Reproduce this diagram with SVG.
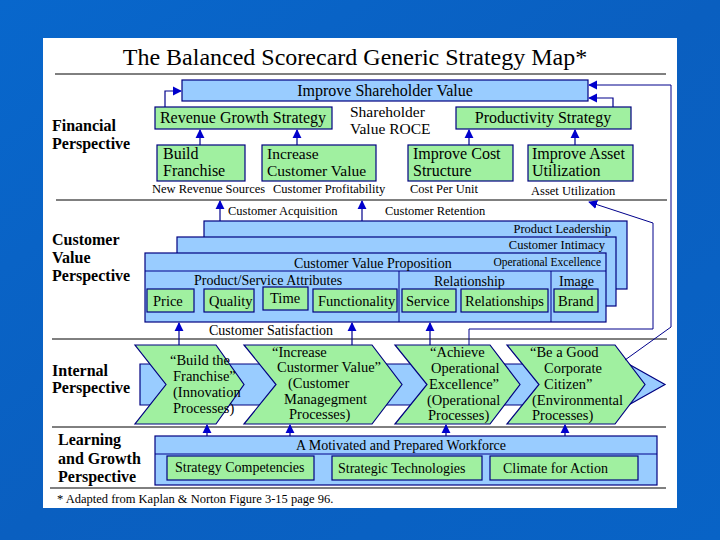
<svg xmlns="http://www.w3.org/2000/svg" width="720" height="540" viewBox="0 0 720 540" font-family="'Liberation Serif', 'Times New Roman', Times, 'DejaVu Serif', serif">
<defs>
<linearGradient id="bg" x1="0" y1="0" x2="1" y2="1">
<stop offset="0" stop-color="#0867CC"/>
<stop offset="0.5" stop-color="#0A5FC0"/>
<stop offset="1" stop-color="#0863C6"/>
</linearGradient>
<style>
text{font-family:'Liberation Serif','Times New Roman',Times,'DejaVu Serif',serif;fill:#000}
.b{font-weight:bold;font-size:16px}
.g{fill:#A0F0A0;stroke:#000080;stroke-width:1.2}
.bl{fill:#99CCFF;stroke:#000080;stroke-width:1.2}
.sep{stroke:#000;stroke-width:1;fill:none}
.c{stroke:#00008B;stroke-width:1.2;fill:none}
.cl{stroke:#00008B;stroke-width:1;fill:none}
.s16{font-size:16px}
.s15{font-size:15.5px}
.s14{font-size:14.5px}
.s12{font-size:12.5px}
</style>
<marker id="ah" viewBox="0 0 10 10" refX="9" refY="5" markerWidth="9" markerHeight="10" markerUnits="userSpaceOnUse" orient="auto">
<path d="M0,0 L10,5 L0,10 z" fill="#0000CC"/>
</marker>
</defs>

<rect x="0" y="0" width="720" height="540" fill="url(#bg)"/>
<rect x="43" y="38" width="634" height="470" fill="#FFFFFF"/>

<text x="355" y="65" font-size="24" text-anchor="middle">The Balanced Scorecard Generic Strategy Map*</text>

<g id="separators">
<line class="sep" x1="55" y1="74" x2="666" y2="74"/>
<line class="sep" x1="56" y1="200" x2="667" y2="200"/>
<line class="sep" x1="52" y1="339" x2="667" y2="339"/>
<line class="sep" x1="52" y1="427" x2="666" y2="427"/>
<line class="sep" x1="50" y1="488" x2="666" y2="488"/>
</g>

<g id="perspective-labels">
<text class="b" x="52" y="131">Financial</text>
<text class="b" x="52" y="149">Perspective</text>
<text class="b" x="52" y="245">Customer</text>
<text class="b" x="52" y="263">Value</text>
<text class="b" x="52" y="281">Perspective</text>
<text class="b" x="52" y="376">Internal</text>
<text class="b" x="52" y="393">Perspective</text>
<text class="b" x="58" y="445">Learning</text>
<text class="b" x="58" y="464">and Growth</text>
<text class="b" x="58" y="482">Perspective</text>
</g>

<g id="improve-shareholder-value">
<rect class="bl" x="182" y="80" width="406" height="21"/>
<text class="s16" x="385" y="96" text-anchor="middle">Improve Shareholder Value</text>
</g>
<g id="revenue-growth-strategy">
<rect class="g" x="155" y="107" width="177" height="22"/>
<text class="s16" x="243" y="123" text-anchor="middle">Revenue Growth Strategy</text>
</g>
<g id="shareholder-value-roce">
<text class="s15" x="350" y="117">Shareholder</text>
<text class="s15" x="350" y="134">Value ROCE</text>
</g>
<g id="productivity-strategy">
<rect class="g" x="456" y="107" width="175" height="22"/>
<text class="s16" x="543" y="123" text-anchor="middle">Productivity Strategy</text>
</g>
<g id="build-franchise">
<rect class="g" x="157" y="145" width="88" height="36"/>
<text class="s16" x="163" y="159">Build</text>
<text class="s16" x="163" y="176">Franchise</text>
</g>
<g id="increase-customer-value">
<rect class="g" x="262" y="145" width="114" height="36"/>
<text class="s15" x="267" y="159">Increase</text>
<text class="s15" x="267" y="176">Customer Value</text>
</g>
<g id="improve-cost-structure">
<rect class="g" x="408" y="145" width="105" height="36"/>
<text class="s16" x="413" y="159">Improve Cost</text>
<text class="s16" x="413" y="176">Structure</text>
</g>
<g id="improve-asset-utilization">
<rect class="g" x="528" y="145" width="105" height="36"/>
<text class="s16" x="532" y="159">Improve Asset</text>
<text class="s16" x="532" y="176">Utilization</text>
</g>
<g id="financial-measures">
<text class="s12" x="152" y="193">New Revenue Sources</text>
<text class="s12" x="273" y="193">Customer Profitability</text>
<text class="s12" x="410" y="193">Cost Per Unit</text>
<text class="s12" x="531" y="195">Asset Utilization</text>
</g>

<g id="product-leadership">
<rect class="bl" x="204" y="221" width="423" height="68"/>
<text class="s12" x="611" y="233" text-anchor="end">Product Leadership</text>
</g>
<g id="customer-intimacy">
<rect class="bl" x="177" y="237" width="439" height="69"/>
<text class="s12" x="605" y="249" text-anchor="end">Customer Intimacy</text>
</g>
<g id="customer-value-proposition">
<rect class="bl" x="145" y="253" width="461" height="69"/>
<line class="cl" x1="145" y1="271" x2="606" y2="271"/>
<line class="cl" x1="399" y1="271" x2="399" y2="322"/>
<line class="cl" x1="551" y1="271" x2="551" y2="322"/>
<text font-size="14" x="294" y="268">Customer Value Proposition</text>
<text font-size="11.5" x="601" y="266" text-anchor="end">Operational Excellence</text>
<text font-size="14" x="194" y="285">Product/Service Attributes</text>
<text font-size="14" x="434" y="286">Relationship</text>
<text font-size="14" x="559" y="286">Image</text>
</g>
<g id="price"><rect class="g" x="147" y="289" width="47" height="23"/><text class="s14" x="153" y="306">Price</text></g>
<g id="quality"><rect class="g" x="204" y="289" width="50" height="23"/><text class="s14" x="209" y="306">Quality</text></g>
<g id="time"><rect class="g" x="263" y="287" width="45" height="23"/><text class="s14" x="270" y="303">Time</text></g>
<g id="functionality"><rect class="g" x="313" y="289" width="84" height="23"/><text class="s14" x="318" y="306">Functionality</text></g>
<g id="service"><rect class="g" x="402" y="289" width="54" height="23"/><text class="s14" x="406" y="306">Service</text></g>
<g id="relationships"><rect class="g" x="461" y="289" width="87" height="23"/><text class="s14" x="465" y="306">Relationships</text></g>
<g id="brand"><rect class="g" x="554" y="289" width="44" height="23"/><text class="s14" x="558" y="306">Brand</text></g>

<g id="internal-arrow">
<polygon class="bl" points="140,364 600,364 600,348 665,384.5 600,421 600,405 140,405"/>
</g>
<g id="build-the-franchise">
<polygon class="g" points="135,345 216,345 244,384.5 216,424 135,424 166,384.5"/>
<text class="s14" x="170" y="365">“Build the</text>
<text class="s14" x="173" y="381">Franchise”</text>
<text class="s14" x="173" y="397">(Innovation</text>
<text class="s14" x="173" y="413">Processes)</text>
</g>
<g id="increase-customer-value-process">
<polygon class="g" points="244,345 372,345 402,384.5 372,424 244,424 276,384.5"/>
<text class="s14" x="272" y="357">“Increase</text>
<text class="s14" x="277" y="372">Custormer Value”</text>
<text class="s14" x="288" y="388">(Customer</text>
<text class="s14" x="284" y="404">Managegment</text>
<text class="s14" x="289" y="419">Processes)</text>
</g>
<g id="achieve-operational-excellence">
<polygon class="g" points="395,345 490,345 520,384.5 490,424 395,424 427,384.5"/>
<text class="s14" x="430" y="357">“Achieve</text>
<text class="s14" x="431" y="373">Operational</text>
<text class="s14" x="429" y="389">Excellence”</text>
<text class="s14" x="427" y="405">(Operational</text>
<text class="s14" x="428" y="420">Processes)</text>
</g>
<g id="good-corporate-citizen">
<polygon class="g" points="507,345 615,345 645,384.5 615,424 507,424 539,384.5"/>
<text class="s14" x="530" y="357">“Be a Good</text>
<text class="s14" x="544" y="373">Corporate</text>
<text class="s14" x="544" y="389">Citizen”</text>
<text class="s14" x="532" y="405">(Environmental</text>
<text class="s14" x="532" y="420">Processes)</text>
</g>

<g id="motivated-workforce">
<rect class="bl" x="155" y="436" width="502" height="49"/>
<line class="cl" x1="155" y1="454" x2="657" y2="454"/>
<text font-size="14" x="401" y="450" text-anchor="middle">A Motivated and Prepared Workforce</text>
</g>
<g id="strategy-competencies"><rect class="g" x="167" y="456" width="147" height="24"/><text font-size="14" x="175" y="472">Strategy Competencies</text></g>
<g id="strategic-technologies"><rect class="g" x="332" y="456" width="150" height="24"/><text font-size="14" x="338" y="473">Strategic Technologies</text></g>
<g id="climate-for-action"><rect class="g" x="490" y="456" width="148" height="24"/><text font-size="14" x="503" y="473">Climate for Action</text></g>

<g id="connector-labels">
<text class="s12" x="228" y="215">Customer Acquisition</text>
<text class="s12" x="385" y="215">Customer Retention</text>
<text font-size="14" x="209" y="335">Customer Satisfaction</text>
</g>

<text class="s12" x="57" y="503">* Adapted from Kaplan &amp; Norton Figure 3-15 page 96.</text>

<g id="connectors">
<polyline class="c" points="165,107 165,91 181,91" marker-end="url(#ah)"/>
<polyline class="c" points="613,107 613,98 589,98" marker-end="url(#ah)"/>
<polyline class="cl" points="625,360 671,327 671,85 589,85" marker-end="url(#ah)"/>
<polyline class="cl" points="469,345 469,329 653,329 653,223 589,202" marker-end="url(#ah)"/>
<line class="c" x1="200" y1="145" x2="200" y2="130" marker-end="url(#ah)"/>
<line class="c" x1="297" y1="145" x2="297" y2="130" marker-end="url(#ah)"/>
<line class="c" x1="469" y1="145" x2="469" y2="130" marker-end="url(#ah)"/>
<line class="c" x1="575" y1="145" x2="575" y2="130" marker-end="url(#ah)"/>
<line class="c" x1="220" y1="221" x2="220" y2="201" marker-end="url(#ah)"/>
<line class="c" x1="362" y1="221" x2="362" y2="201" marker-end="url(#ah)"/>
<line class="c" x1="179" y1="345" x2="179" y2="323" marker-end="url(#ah)"/>
<line class="c" x1="352" y1="345" x2="352" y2="323" marker-end="url(#ah)"/>
<line class="c" x1="430" y1="345" x2="430" y2="323" marker-end="url(#ah)"/>
<line class="c" x1="207" y1="436" x2="207" y2="425" marker-end="url(#ah)"/>
<line class="c" x1="290" y1="436" x2="290" y2="425" marker-end="url(#ah)"/>
<line class="c" x1="446" y1="436" x2="446" y2="425" marker-end="url(#ah)"/>
<line class="c" x1="565" y1="436" x2="565" y2="425" marker-end="url(#ah)"/>
</g>
</svg>
